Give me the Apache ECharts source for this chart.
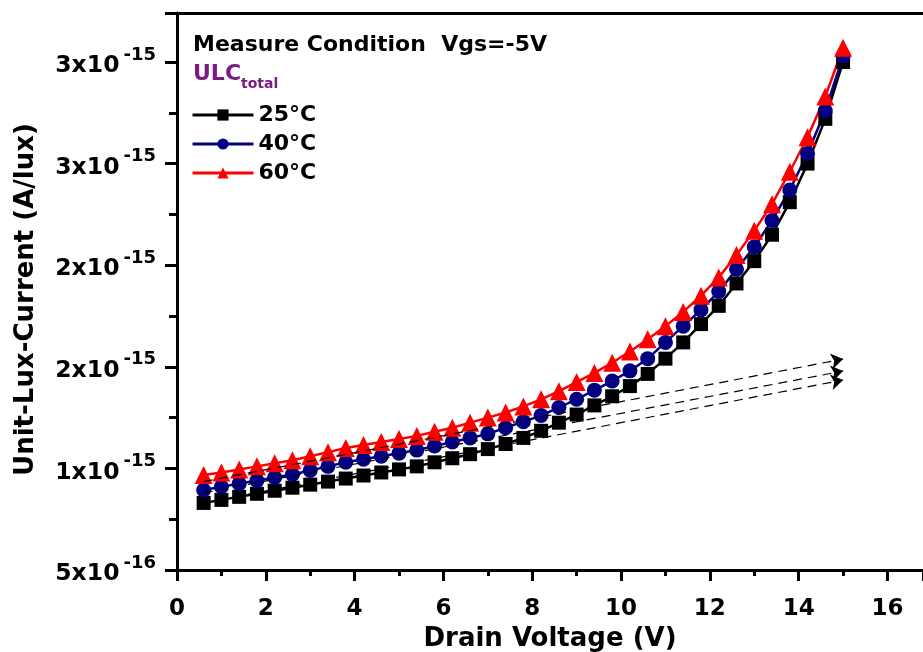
<!DOCTYPE html>
<html><head><meta charset="utf-8">
<script src="https://cdn.jsdelivr.net/npm/echarts@6/dist/echarts.min.js"></script>
<style>html,body{margin:0;padding:0;background:#fff}#c{width:923px;height:652px}</style>
</head><body><div id="c"></div>
<script>
// Drain voltage (V)
const drainVoltage = [0.6,1.0,1.4,1.8,2.2,2.6,3.0,3.4,3.8,4.2,4.6,5.0,5.4,5.8,6.2,6.6,7.0,7.4,7.8,8.2,8.6,9.0,9.4,9.8,10.2,10.6,11.0,11.4,11.8,12.2,12.6,13.0,13.4,13.8,14.2,14.6,15.0];
// Unit-lux-current, in units of 1e-15 A/lux
const ulc25 = [0.83,0.845,0.86,0.875,0.89,0.905,0.92,0.935,0.95,0.965,0.98,0.995,1.01,1.03,1.05,1.07,1.095,1.12,1.15,1.185,1.225,1.265,1.31,1.355,1.405,1.465,1.54,1.62,1.71,1.80,1.91,2.02,2.15,2.31,2.50,2.72,3.00];
const ulc40 = [0.894,0.91,0.925,0.94,0.955,0.97,0.99,1.01,1.03,1.045,1.06,1.075,1.09,1.11,1.13,1.15,1.17,1.20,1.23,1.26,1.30,1.34,1.385,1.43,1.48,1.54,1.62,1.70,1.78,1.87,1.98,2.09,2.22,2.37,2.55,2.76,3.03];
const ulc60 = [0.967,0.98,0.995,1.01,1.025,1.04,1.06,1.08,1.10,1.115,1.13,1.145,1.16,1.18,1.20,1.225,1.25,1.275,1.305,1.34,1.38,1.425,1.47,1.52,1.575,1.635,1.70,1.77,1.85,1.94,2.05,2.17,2.30,2.46,2.63,2.83,3.07];
// Linear extrapolation (dashed arrows): [start point, end point]
const fit25 = [[0.6, 0.83], [15.0, 1.435]];
const fit40 = [[0.6, 0.88], [15.0, 1.479]];
const fit60 = [[0.6, 0.935], [15.0, 1.538]];
const seriesNames = ['25°C', '40°C', '60°C'];
// Y tick labels as printed: [mantissa, exponent]
const yTickLabels = [['5','-16'],['1','-15'],['2','-15'],['2','-15'],['3','-15'],['3','-15']];
const headerText = 'Measure Condition  Vgs=-5V';
const xAxisTitle = 'Drain Voltage (V)';
const yAxisTitle = 'Unit-Lux-Current (A/lux)';

const FONT = 'DejaVu Sans';
const pair = (xs, ys) => xs.map((x, i) => [x, ys[i]]);
const chart = echarts.init(document.getElementById('c'), null, {renderer: 'canvas'});

const mkSeries = (name, data, color, symbol, size) => ({
  name, type: 'line', data: pair(drainVoltage, data), symbol, symbolSize: size,
  lineStyle: {color, width: 2.5}, itemStyle: {color}, animation: false, z: 3
});

chart.setOption({
  backgroundColor: '#fff',
  animation: false,
  grid: {left: 177, top: 13, right: 0, bottom: 82, containLabel: false, outerBoundsMode: 'none'},
  xAxis: [{
    type: 'value', min: 0, max: 16.8, interval: 2,
    name: xAxisTitle, nameLocation: 'middle', nameGap: 55,
    nameTextStyle: {fontFamily: FONT, fontWeight: 'bold', fontSize: 26, color: '#000'},
    axisLine: {show: true, onZero: false, lineStyle: {color: '#000', width: 3}},
    axisTick: {show: true, inside: false, length: 11, lineStyle: {color: '#000', width: 3}},
    minorTick: {show: true, splitNumber: 2, length: 6, lineStyle: {color: '#000', width: 3}},
    axisLabel: {fontFamily: FONT, fontWeight: 'bold', fontSize: 23, color: '#000', margin: 28, showMaxLabel: false},
    splitLine: {show: false}
  }, {
    type: 'value', position: 'top', min: 0, max: 16.8,
    axisLine: {show: true, lineStyle: {color: '#000', width: 3}},
    axisTick: {show: false}, axisLabel: {show: false}, splitLine: {show: false}
  }],
  yAxis: {
    type: 'value', min: 0.5, max: 3.241, interval: 0.5,
    name: yAxisTitle, nameLocation: 'middle', nameGap: 138, nameRotate: 90,
    nameTextStyle: {fontFamily: FONT, fontWeight: 'bold', fontSize: 26, color: '#000', padding: [0, 16, 0, 0]},
    axisLine: {show: true, onZero: false, lineStyle: {color: '#000', width: 3}},
    axisTick: {show: true, inside: false, length: 12, lineStyle: {color: '#000', width: 3}},
    minorTick: {show: true, splitNumber: 2, length: 8, lineStyle: {color: '#000', width: 3}},
    splitLine: {show: false},
    axisLabel: {
      margin: 21, showMaxLabel: false,
      formatter: (v) => {
        const t = yTickLabels[Math.round((v - 0.5) / 0.5)];
        return t ? `{m|${t[0]}x10}{s|${t[1]}}` : '';
      },
      rich: {
        m: {fontFamily: FONT, fontWeight: 'bold', fontSize: 23.5, color: '#000', lineHeight: 32, verticalAlign: 'bottom'},
        s: {fontFamily: FONT, fontWeight: 'bold', fontSize: 18, color: '#000', lineHeight: 18, verticalAlign: 'top', padding: [0, 0, 0, 4]}
      }
    }
  },
  legend: {
    data: seriesNames, orient: 'vertical', left: 186, top: 99,
    itemWidth: 61, itemHeight: 14, itemGap: 7,
    lineStyle: {width: 3},
    textStyle: {fontFamily: FONT, fontWeight: 'bold', fontSize: 22, color: '#000'}
  },
  graphic: [
    {type: 'text', left: 193, top: 34, z: 10,
     style: {text: headerText, font: `bold 22px "${FONT}"`, fill: '#000'}},
    {type: 'text', left: 193, top: 63, z: 10,
     style: {text: '{a|ULC}{b|total}',
       rich: {
         a: {fontFamily: FONT, fontWeight: 'bold', fontSize: 22, fill: '#7b1a85', lineHeight: 26, verticalAlign: 'top'},
         b: {fontFamily: FONT, fontWeight: 'bold', fontSize: 14, fill: '#7b1a85', lineHeight: 34, verticalAlign: 'top', padding: [14, 0, 0, 0]}
       }}}
  ],
  series: [
    mkSeries(seriesNames[0], ulc25, '#000000', 'rect', 14),
    mkSeries(seriesNames[1], ulc40, '#000080', 'circle', 15),
    mkSeries(seriesNames[2], ulc60, '#ff0000', 'triangle', 18),
    {
      name: 'fits', type: 'lines', coordinateSystem: 'cartesian2d', z: 4,
      polyline: false, silent: true, animation: false,
      symbol: ['none', 'arrow'], symbolSize: 12,
      lineStyle: {color: '#000', type: [9, 6], width: 1.2, opacity: 1},
      itemStyle: {color: '#000'},
      data: [{coords: fit25}, {coords: fit40}, {coords: fit60}]
    }
  ]
});
</script></body></html>
